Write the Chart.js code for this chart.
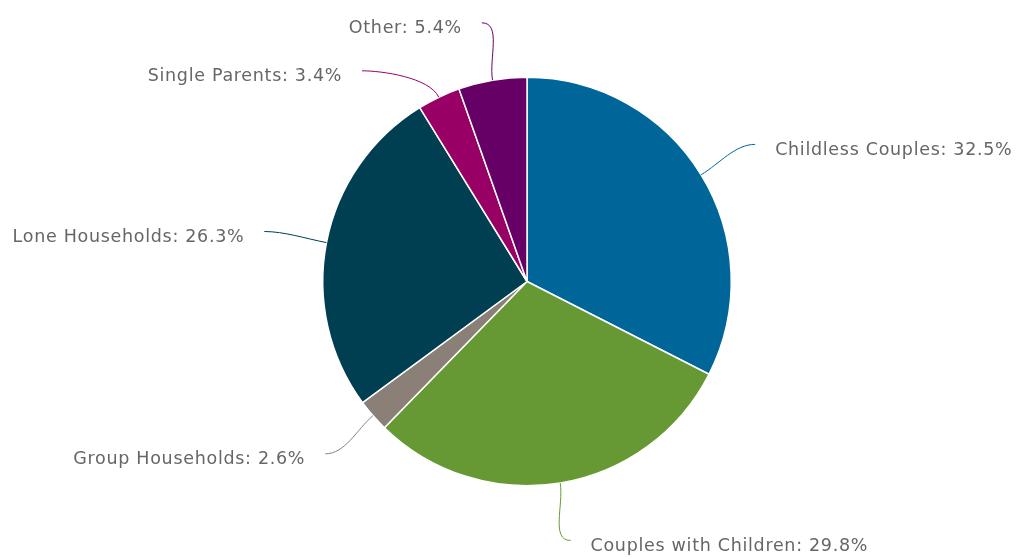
<!DOCTYPE html>
<html>
<head>
<meta charset="utf-8">
<script src="https://cdn.jsdelivr.net/npm/chart.js@4/dist/chart.umd.min.js"></script>
<style>
    html, body { margin: 0; padding: 0; background: #fff; }
    #wrap { width: 1019px; height: 559px; }
</style>
</head>
<body>
<div id="wrap"><canvas id="myChart" width="1019" height="559"></canvas></div>
<script>
const categories = ['Childless Couples', 'Couples with Children', 'Group Households', 'Lone Households', 'Single Parents', 'Other'];
const shares = [32.5, 29.8, 2.6, 26.3, 3.4, 5.4];
const sliceColors = ['#006699', '#669933', '#8a8078', '#003f52', '#990066', '#660066'];

// outside labels with soft connectors, placed from the arc geometry
const outsideLabels = {
    id: 'outsideLabels',
    afterDraw(chart) {
        const ctx = chart.ctx;
        const meta = chart.getDatasetMeta(0);
        const gap = 48;
        const items = meta.data.map((arc, i) => {
            const p = arc.getProps(['x', 'y', 'startAngle', 'endAngle', 'outerRadius'], true);
            const mid = (p.startAngle + p.endAngle) / 2;
            const R = p.outerRadius * 1.31;
            return {
                i, p, mid, R,
                left: Math.cos(mid) < 0,
                moved: false,
                y: p.y + p.outerRadius * 1.285 * Math.sin(mid)
            };
        });
        [true, false].forEach(side => {
            const list = items.filter(o => o.left === side).sort((a, b) => a.y - b.y);
            for (let k = 1; k < list.length; k++) {
                if (list[k].y - list[k - 1].y < gap) {
                    list[k].y = list[k - 1].y + gap;
                    list[k].moved = true;
                }
            }
        });
        ctx.save();
        ctx.font = '17.5px "DejaVu Sans"';
        ctx.letterSpacing = '0.7px';
        ctx.textBaseline = 'middle';
        items.forEach(o => {
            const { p, mid, R } = o;
            const dy = o.y - p.y;
            const dx = o.moved ? Math.sqrt(Math.max(R * R - dy * dy, 0)) : R * Math.abs(Math.cos(mid));
            const lx = p.x + (o.left ? -dx : dx);
            const ly = o.y;
            const ex = p.x + p.outerRadius * Math.cos(mid);
            const ey = p.y + p.outerRadius * Math.sin(mid);
            const bx = p.x + (p.outerRadius + 22) * Math.cos(mid);
            const by = p.y + (p.outerRadius + 22) * Math.sin(mid);
            ctx.strokeStyle = sliceColors[o.i];
            ctx.lineWidth = 1;
            ctx.beginPath();
            ctx.moveTo(lx, ly);
            ctx.bezierCurveTo(lx + (o.left ? 20 : -20), ly, bx, by, ex, ey);
            ctx.stroke();
            ctx.fillStyle = '#666666';
            ctx.textAlign = o.left ? 'right' : 'left';
            ctx.fillText(categories[o.i] + ': ' + shares[o.i] + '%', lx + (o.left ? -20 : 20), ly + 6);
        });
        ctx.restore();
    }
};

new Chart(document.getElementById('myChart'), {
    type: 'pie',
    data: {
        labels: categories,
        datasets: [{
            data: shares,
            backgroundColor: sliceColors,
            borderColor: '#ffffff',
            borderWidth: 1.5
        }]
    },
    options: {
        responsive: false,
        animation: false,
        layout: {
            padding: { left: 322, right: 287, top: 76, bottom: 72 }
        },
        plugins: {
            legend: { display: false },
            tooltip: { enabled: false },
            title: { display: false }
        }
    },
    plugins: [outsideLabels]
});
</script>
</body>
</html>
